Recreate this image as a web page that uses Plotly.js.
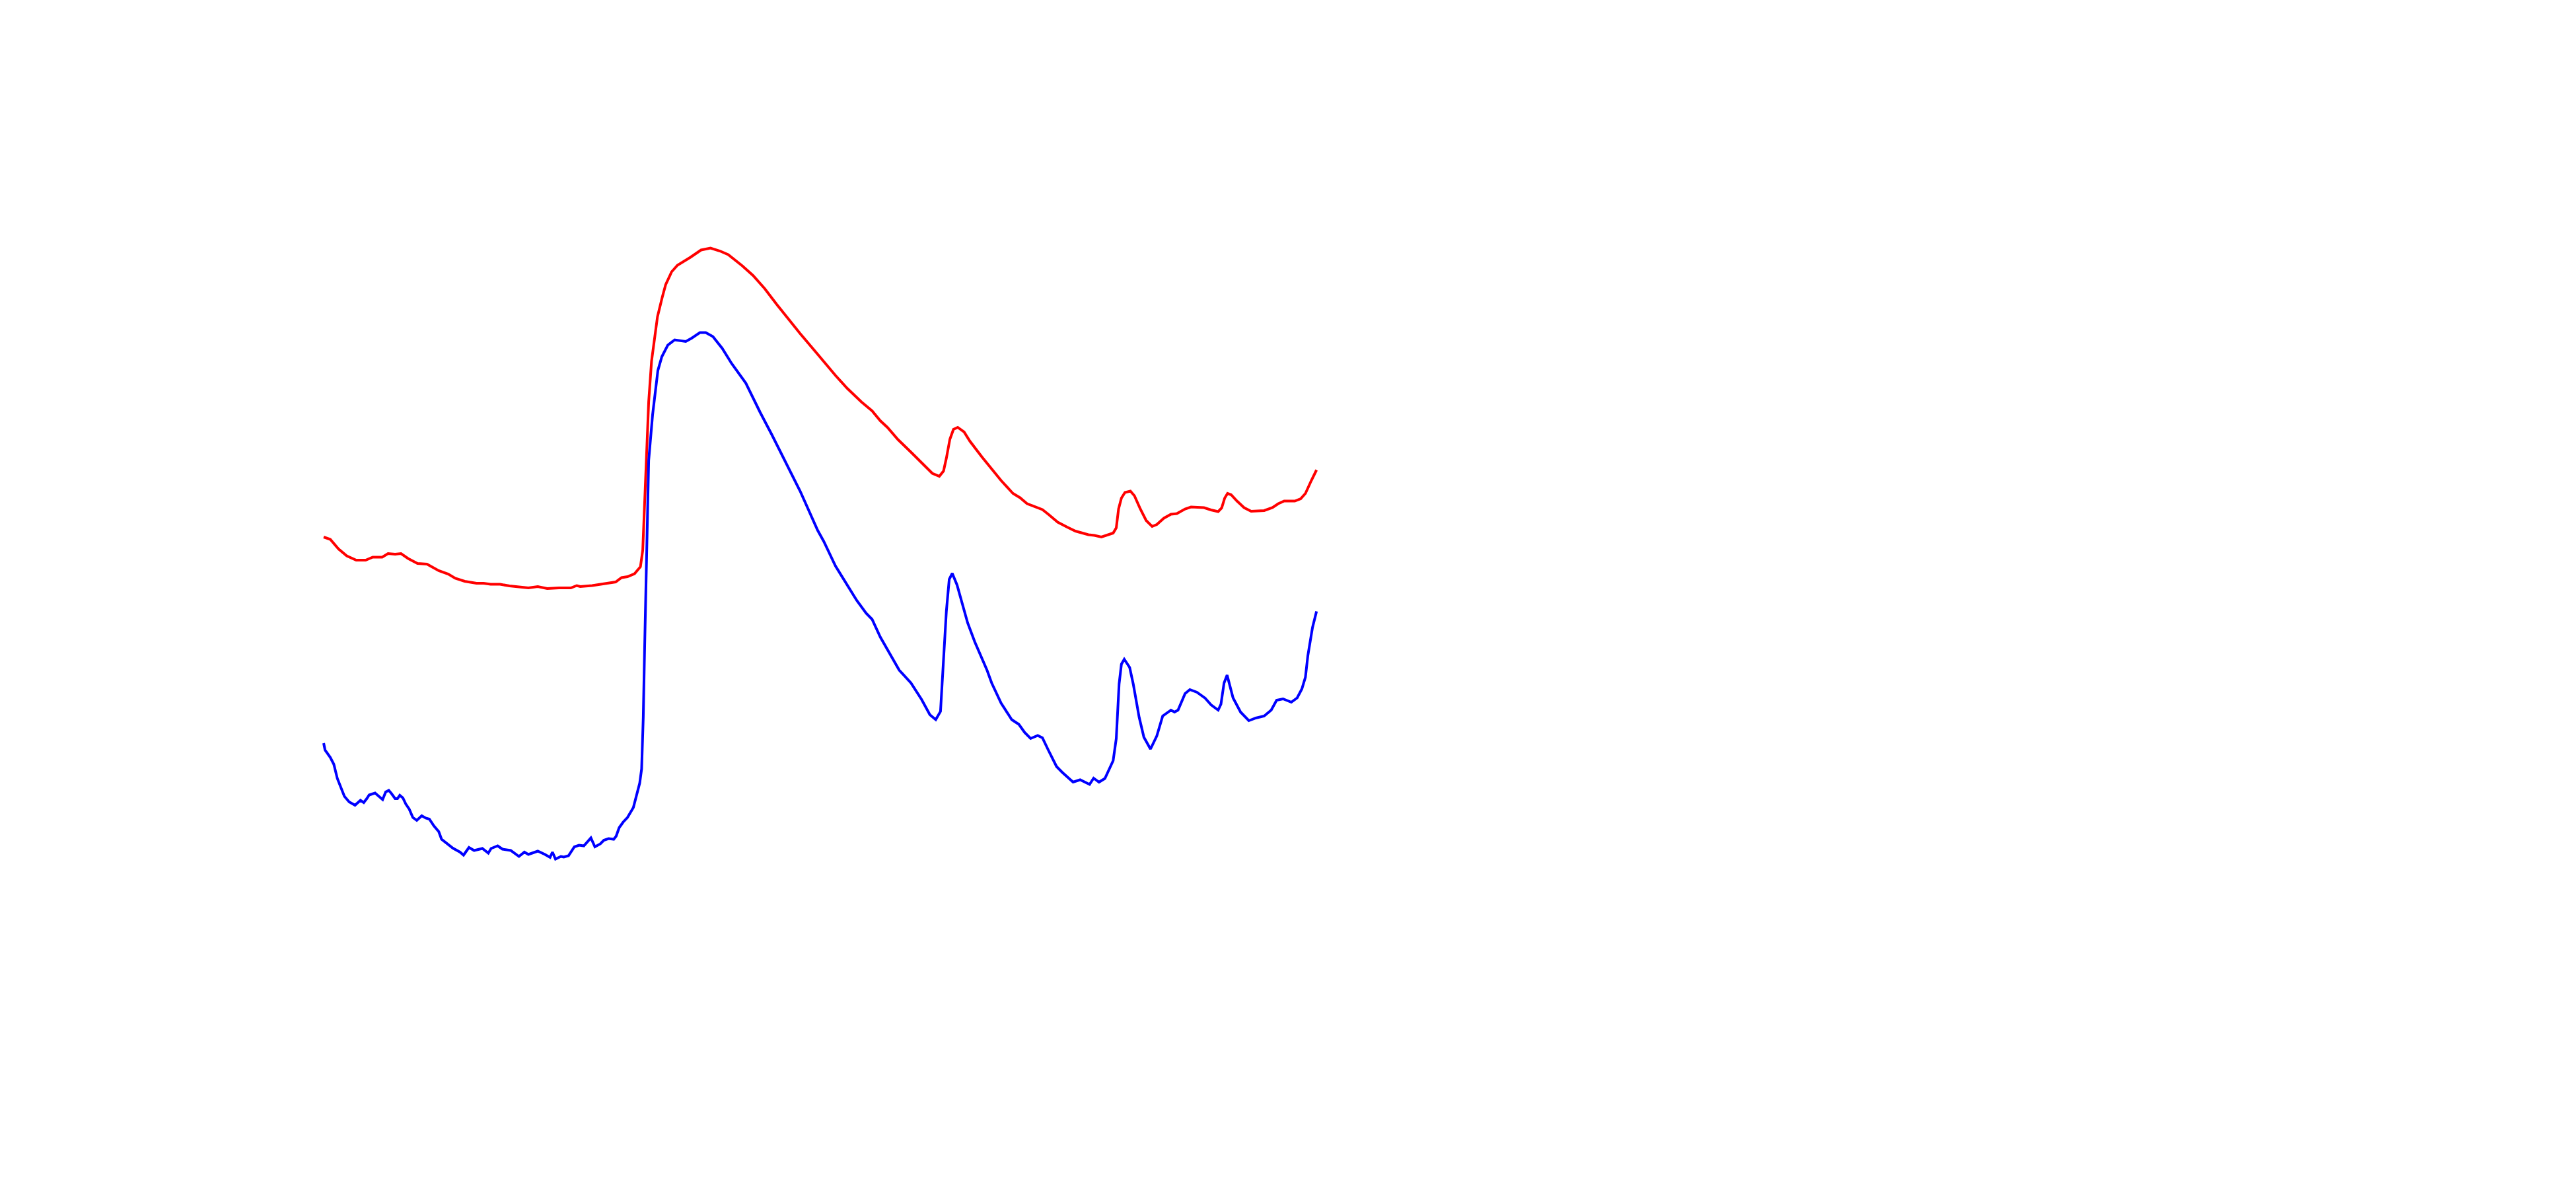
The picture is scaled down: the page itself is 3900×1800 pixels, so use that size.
<!DOCTYPE html>
<html>
<head>
<meta charset="utf-8">
<script src="https://cdn.plot.ly/plotly-3.0.1.min.js"></script>
<style>html,body{margin:0;padding:0;background:#fff;}#chart{width:3900px;height:1800px;}</style>
</head>
<body>
<div id="chart"></div>
<script>
// Red spectrum (energy, eV / normalized absorption, offset)
const redEnergy = [7100.0,7101.0,7102.25,7103.5,7104.93,7106.36,7107.43,7108.86,7109.75,7110.82,7111.71,7112.78,7114.21,7115.64,7117.43,7118.86,7119.93,7121.35,7123.14,7124.21,7125.28,7126.71,7128.14,7129.57,7131.0,7132.42,7133.85,7135.64,7137.42,7138.32,7138.85,7140.64,7142.07,7143.14,7144.21,7145.1,7146.0,7147.07,7147.96,7148.31,7148.56,7148.85,7149.21,7149.64,7150.54,7151.25,7151.78,7152.68,7153.57,7155.53,7157.14,7158.57,7160.0,7161.25,7163.39,7165.0,7166.78,7168.57,7170.35,7172.14,7174.64,7177.5,7179.28,7181.42,7183.03,7184.28,7185.35,7186.96,7188.92,7190.71,7192.14,7193.21,7193.85,7194.28,7194.81,7195.35,7196.0,7196.96,7197.85,7199.64,7201.14,7202.57,7204.36,7205.43,7206.5,7207.93,7208.82,7209.71,7211.14,7212.57,7213.82,7215.78,7216.68,7217.75,7218.64,7219.53,7220.0,7220.35,7220.78,7221.32,7222.14,7222.75,7223.64,7224.53,7225.43,7226.14,7227.21,7228.28,7229.17,7230.42,7231.32,7233.28,7234.35,7235.43,7235.96,7236.42,7236.85,7237.39,7238.28,7239.35,7240.42,7242.39,7243.64,7244.53,7245.42,7247.03,7247.92,7248.64,7249.53,7250.32];
const redValue = [1.174,1.167,1.138,1.117,1.104,1.104,1.113,1.113,1.124,1.122,1.124,1.109,1.094,1.092,1.072,1.062,1.049,1.040,1.034,1.034,1.031,1.031,1.026,1.022,1.020,1.024,1.018,1.020,1.020,1.027,1.024,1.027,1.031,1.036,1.038,1.051,1.054,1.063,1.084,1.134,1.263,1.442,1.584,1.706,1.841,1.899,1.938,1.977,1.997,2.021,2.043,2.049,2.040,2.029,1.995,1.966,1.926,1.879,1.834,1.790,1.731,1.663,1.624,1.583,1.556,1.526,1.506,1.469,1.431,1.395,1.367,1.358,1.374,1.413,1.470,1.500,1.506,1.492,1.464,1.417,1.381,1.345,1.306,1.293,1.275,1.265,1.257,1.243,1.219,1.204,1.192,1.181,1.179,1.174,1.179,1.186,1.202,1.259,1.292,1.309,1.313,1.299,1.259,1.224,1.206,1.212,1.231,1.243,1.245,1.259,1.265,1.263,1.256,1.251,1.262,1.292,1.306,1.302,1.283,1.263,1.252,1.254,1.263,1.275,1.283,1.283,1.290,1.306,1.345,1.377];

// Blue spectrum
const blueEnergy = [7100.0,7100.21,7101.0,7101.54,7102.07,7102.61,7103.14,7103.86,7104.75,7105.57,7106.07,7106.53,7106.89,7107.78,7108.32,7108.93,7109.39,7109.86,7110.28,7110.82,7111.18,7111.53,7112.0,7112.43,7112.96,7113.5,7114.1,7114.85,7115.46,7116.0,7116.71,7117.43,7117.85,7118.86,7119.57,7120.64,7121.18,7122.0,7122.78,7124.03,7124.93,7125.35,7126.35,7127.07,7128.32,7129.57,7130.39,7131.0,7132.42,7133.5,7134.28,7134.64,7135.1,7135.92,7136.35,7137.07,7137.96,7138.67,7139.39,7140.46,7141.07,7141.89,7142.42,7143.14,7143.92,7144.28,7144.74,7145.35,7146.0,7146.89,7147.42,7147.85,7148.14,7148.39,7148.6,7148.68,7148.85,7149.0,7149.21,7149.8,7150.6,7151.2,7152.1,7153.14,7154.82,7155.71,7156.96,7157.85,7158.93,7160.35,7161.78,7163.92,7166.07,7167.85,7170.0,7172.14,7174.8,7175.71,7177.5,7179.46,7180.71,7182.14,7183.03,7184.28,7185.53,7187.14,7188.92,7190.53,7191.78,7192.67,7193.39,7193.74,7194.28,7194.71,7195.17,7195.89,7196.6,7197.5,7198.57,7199.71,7200.43,7201.14,7202.57,7204.18,7205.25,7206.14,7207.03,7208.11,7208.82,7209.71,7210.96,7211.85,7213.46,7214.53,7215.96,7216.57,7217.39,7218.28,7218.82,7219.53,7220.0,7220.43,7220.78,7221.21,7222.03,7222.57,7223.46,7224.18,7225.18,7226.14,7227.03,7228.28,7228.82,7229.35,7230.42,7231.14,7232.21,7233.46,7234.35,7235.43,7235.85,7236.32,7236.78,7237.21,7237.68,7238.82,7240.07,7241.14,7242.39,7243.46,7244.28,7245.25,7246.5,7247.39,7248.1,7248.64,7249.0,7249.71,7250.32];
const blueValue = [0.550,0.529,0.507,0.486,0.443,0.414,0.389,0.372,0.362,0.377,0.370,0.382,0.393,0.399,0.389,0.379,0.402,0.407,0.397,0.382,0.382,0.392,0.384,0.366,0.350,0.325,0.316,0.330,0.323,0.320,0.299,0.282,0.259,0.243,0.232,0.220,0.211,0.234,0.225,0.231,0.217,0.231,0.239,0.229,0.225,0.207,0.220,0.213,0.223,0.213,0.204,0.220,0.199,0.207,0.205,0.209,0.236,0.241,0.239,0.263,0.236,0.245,0.256,0.261,0.259,0.268,0.294,0.311,0.325,0.355,0.393,0.429,0.472,0.629,0.843,0.914,1.057,1.200,1.406,1.544,1.678,1.720,1.755,1.771,1.766,1.776,1.793,1.793,1.781,1.745,1.699,1.640,1.552,1.484,1.399,1.313,1.194,1.161,1.086,1.021,0.982,0.943,0.925,0.871,0.829,0.771,0.732,0.682,0.636,0.621,0.646,0.757,0.950,1.046,1.064,1.029,0.979,0.914,0.857,0.807,0.771,0.732,0.671,0.621,0.607,0.582,0.564,0.573,0.566,0.529,0.479,0.461,0.432,0.439,0.425,0.444,0.432,0.443,0.468,0.497,0.564,0.729,0.789,0.804,0.779,0.729,0.629,0.568,0.532,0.572,0.632,0.650,0.644,0.650,0.700,0.712,0.704,0.686,0.666,0.650,0.668,0.732,0.756,0.722,0.687,0.644,0.618,0.626,0.632,0.650,0.680,0.684,0.674,0.687,0.714,0.750,0.814,0.900,0.949];

const xRange = [7051, 7441];
const yRange = [-0.8, 2.8];

const traces = [
  {x: redEnergy, y: redValue, type: 'scatter', mode: 'lines', name: 'red', line: {color: 'rgb(255,0,0)', width: 4}},
  {x: blueEnergy, y: blueValue, type: 'scatter', mode: 'lines', name: 'blue', line: {color: 'rgb(0,0,255)', width: 4}}
];

const layout = {
  width: 3900, height: 1800,
  margin: {l: 0, r: 0, t: 0, b: 0, pad: 0},
  paper_bgcolor: '#ffffff', plot_bgcolor: '#ffffff',
  showlegend: false,
  xaxis: {range: xRange, visible: false, showgrid: false, zeroline: false},
  yaxis: {range: yRange, visible: false, showgrid: false, zeroline: false}
};

Plotly.newPlot('chart', traces, layout, {staticPlot: true, displayModeBar: false});
</script>
</body>
</html>
